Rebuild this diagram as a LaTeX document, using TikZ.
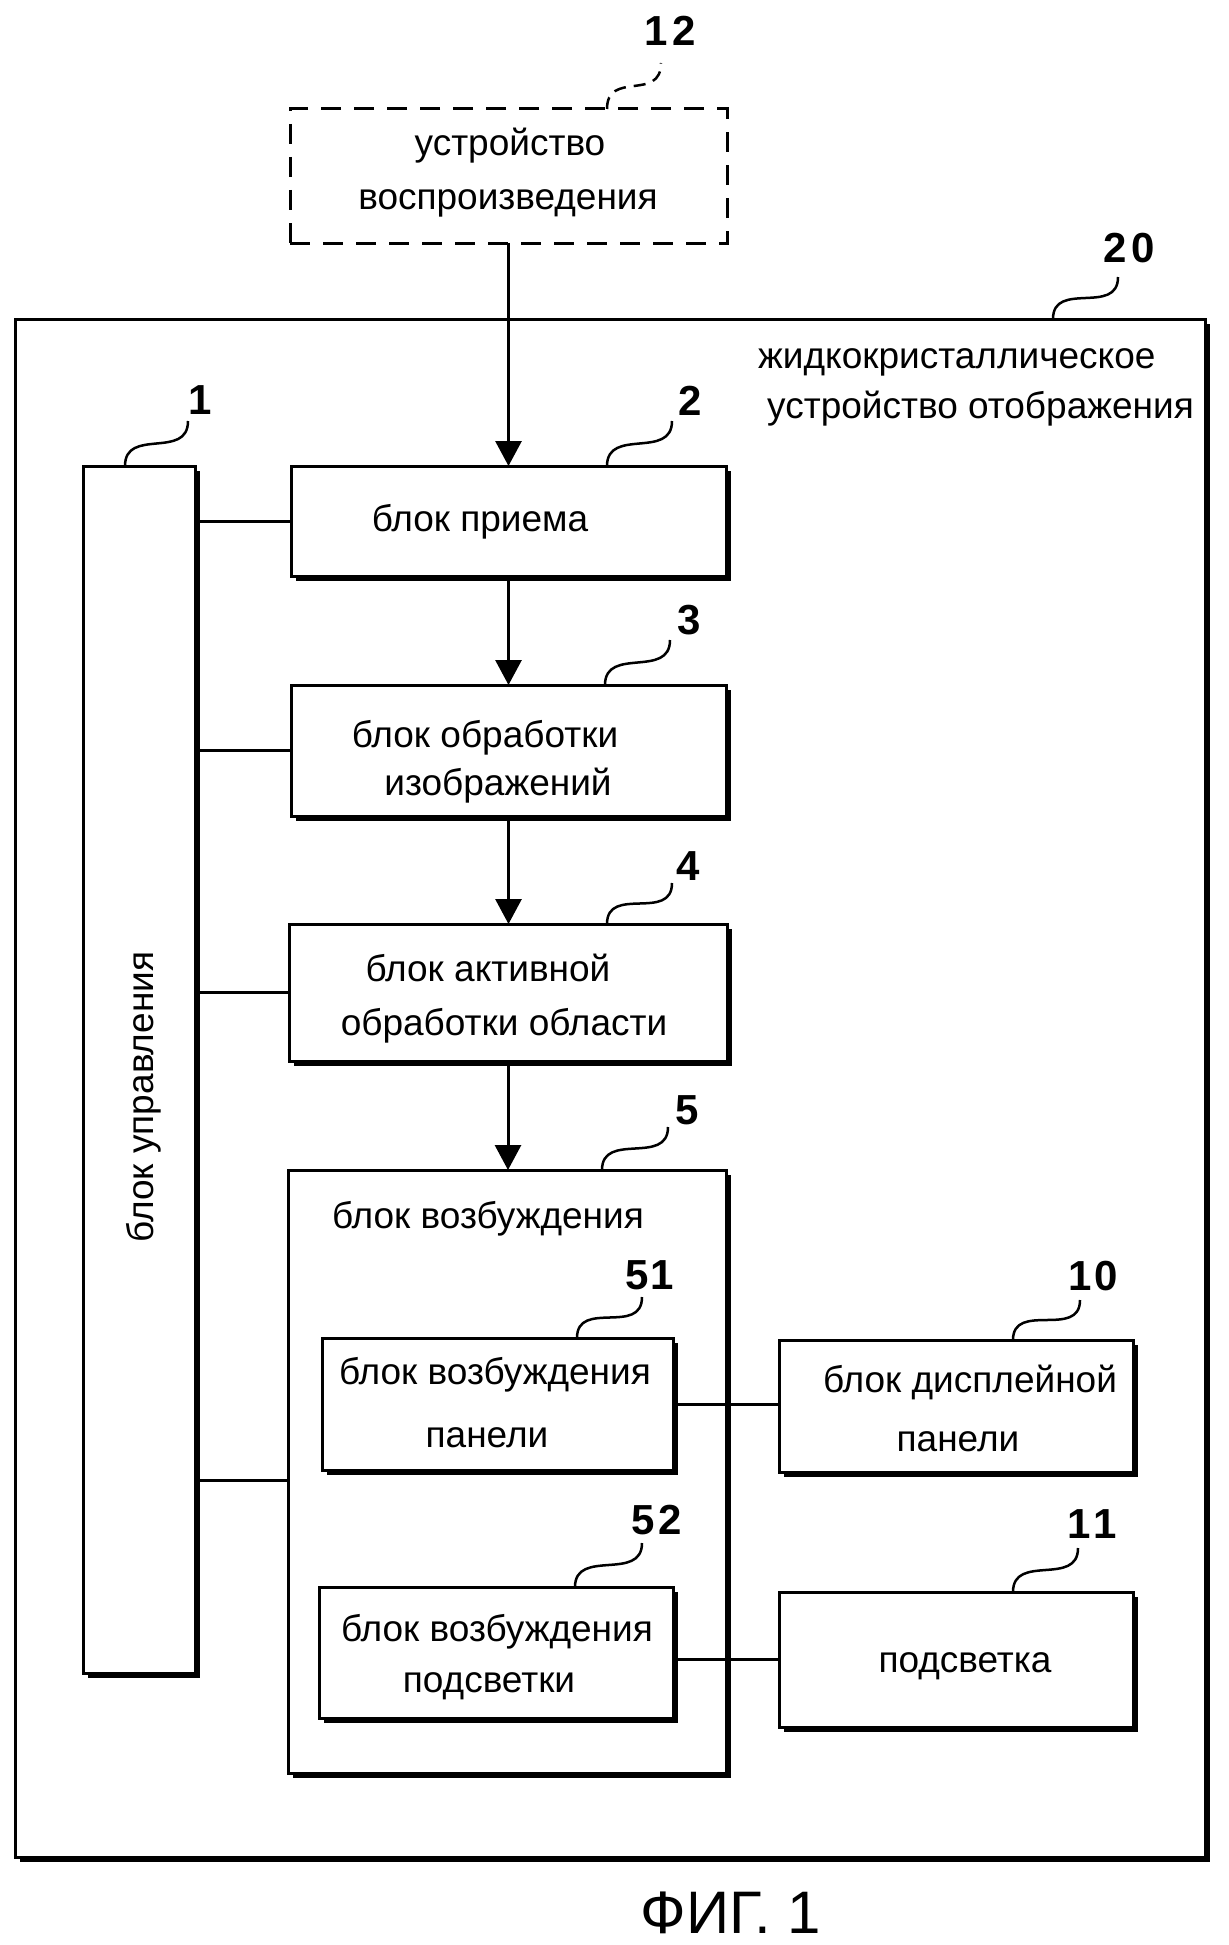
\documentclass[tikz,border=0pt]{standalone}
\usepackage{fontspec}
\setmainfont{Liberation Sans}
\usetikzlibrary{arrows.meta,shadows,calc}
\newcommand\ldr[3][]{\draw[leader,#1] #2 .. controls +(0,-39) and +(0,39) .. #3;}
\begin{document}
\begin{tikzpicture}[x=1pt,y=-1pt,
  box/.style={draw,line width=3pt,fill=white,inner sep=0pt,outer sep=0pt,
     drop shadow={shadow xshift=5pt,shadow yshift=-5pt,fill=black,opacity=1}},
  dbox/.style={draw,line width=3pt,dash pattern=on 20pt off 13pt,inner sep=0pt,outer sep=0pt},
  txt/.style={font=\fontsize{37}{44}\selectfont,inner sep=0pt,anchor=base},
  num/.style={font=\fontsize{42}{44}\selectfont\bfseries,inner sep=0pt},
  conn/.style={line width=3pt},
  arr/.style={line width=3pt,-{Triangle[length=25pt,width=26pt]}},
  leader/.style={line width=2.5pt},
]
\useasboundingbox[fill=white] (0,0) rectangle (1228,1945);

% outer device box
\node[box,minimum width=1190pt,minimum height=1538pt] (b20) at (610,1088) {};
% playback device (dashed)
\node[dbox,minimum width=437pt,minimum height=134pt] (b12) at (508.5,176) {};
% control block
\node[box,minimum width=112pt,minimum height=1207pt] (b1) at (139,1069.5) {};
% processing chain
\node[box,minimum width=435pt,minimum height=110pt] (b2) at (508.5,521) {};
\node[box,minimum width=435pt,minimum height=131pt] (b3) at (508.5,750.5) {};
\node[box,minimum width=438pt,minimum height=137pt] (b4) at (508,992.5) {};
\node[box,minimum width=438pt,minimum height=603pt] (b5) at (507,1471.5) {};
\node[box,minimum width=351pt,minimum height=132pt] (b51) at (497.5,1404) {};
\node[box,minimum width=354pt,minimum height=131pt] (b52) at (496,1652.5) {};
\node[box,minimum width=354pt,minimum height=132pt] (b10) at (956,1406) {};
\node[box,minimum width=354pt,minimum height=135pt] (b11) at (956,1659.5) {};

% texts
\node[txt] (t12a) at (510,156) {устройство};
\node[txt] (t12b) at (508,210) {воспроизведения};
\node[txt,anchor=base west] (t20a) at (758,368) {жидкокристаллическое};
\node[txt,anchor=base west] (t20b) at (767,418) {устройство отображения};
\node[txt,rotate=90] (t1) at (153,1097) {блок управления};
\node[txt] (t2) at (480,531) {блок приема};
\node[txt] (t3a) at (485,747) {блок обработки};
\node[txt] (t3b) at (498,795) {изображений};
\node[txt] (t4a) at (488,981) {блок активной};
\node[txt] (t4b) at (504,1035) {обработки области};
\node[txt] (t5) at (488,1228) {блок возбуждения};
\node[txt] (t51a) at (495,1384) {блок возбуждения};
\node[txt] (t51b) at (487,1447) {панели};
\node[txt] (t52a) at (497,1641) {блок возбуждения};
\node[txt] (t52b) at (489,1692) {подсветки};
\node[txt] (t10a) at (970,1392) {блок дисплейной};
\node[txt] (t10b) at (958,1451) {панели};
\node[txt] (t11) at (965,1672) {подсветка};
\node[font=\fontsize{60}{70}\selectfont,inner sep=0pt,anchor=base] (fig) at (731,1933) {ФИГ. 1};

% reference numerals
\node[num] (l12) at (670,31) {1\kern5pt 2};
\node[num] (l20) at (1129,248) {2\kern4pt 0};
\node[num] (l1) at (200,400) {1};
\node[num] (l2) at (690,401) {2};
\node[num] (l3) at (689,620) {3};
\node[num] (l4) at (688,866) {4};
\node[num] (l5) at (687,1110) {5};
\node[num] (l51) at (650,1275) {5\kern2pt 1};
\node[num] (l52) at (657,1520) {5\kern4pt 2};
\node[num] (l10) at (1093,1276) {1\kern3pt 0};
\node[num] (l11) at (1092,1524) {1\kern3pt 1};

% leader ends
\coordinate (q12) at (661,63);
\coordinate (q20) at (1118,277);
\coordinate (q1) at (188,421);
\coordinate (q2) at (672,421);
\coordinate (q3) at (670,640);
\coordinate (q4) at (672,883);
\coordinate (q5) at (668,1127);
\coordinate (q51) at (642,1297);
\coordinate (q52) at (642,1543);
\coordinate (q10) at (1080,1300);
\coordinate (q11) at (1078,1548);

\ldr[dash pattern=on 12pt off 8pt]{(607,0 |- b12.north)}{(q12)}
\ldr{(1053,0 |- b20.north)}{(q20)}
\ldr{(125,0 |- b1.north)}{(q1)}
\ldr{(607,0 |- b2.north)}{(q2)}
\ldr{(605,0 |- b3.north)}{(q3)}
\ldr{(607,0 |- b4.north)}{(q4)}
\ldr{(602,0 |- b5.north)}{(q5)}
\ldr{(577,0 |- b51.north)}{(q51)}
\ldr{(575,0 |- b52.north)}{(q52)}
\ldr{(1013,0 |- b10.north)}{(q10)}
\ldr{(1013,0 |- b11.north)}{(q11)}

% arrows
\draw[arr] (b12.south) -- (b2.north);
\draw[arr] (b2.south) -- (b3.north);
\draw[arr] (b3.south) -- (b3.south |- b4.north);
\draw[arr] (b4.south) -- (b4.south |- b5.north);

% control connections
\coordinate (c5) at ($(b5.west)+(0,9)$);
\draw[conn] (b2.west -| b1.east) -- (b2.west);
\draw[conn] (b3.west -| b1.east) -- (b3.west);
\draw[conn] (b4.west -| b1.east) -- (b4.west);
\draw[conn] (c5 -| b1.east) -- (c5);

% drive outputs
\draw[conn] (b51.east) -- (b51.east -| b10.west);
\draw[conn] (b11.west -| b52.east) -- (b11.west);
\end{tikzpicture}
\end{document}
